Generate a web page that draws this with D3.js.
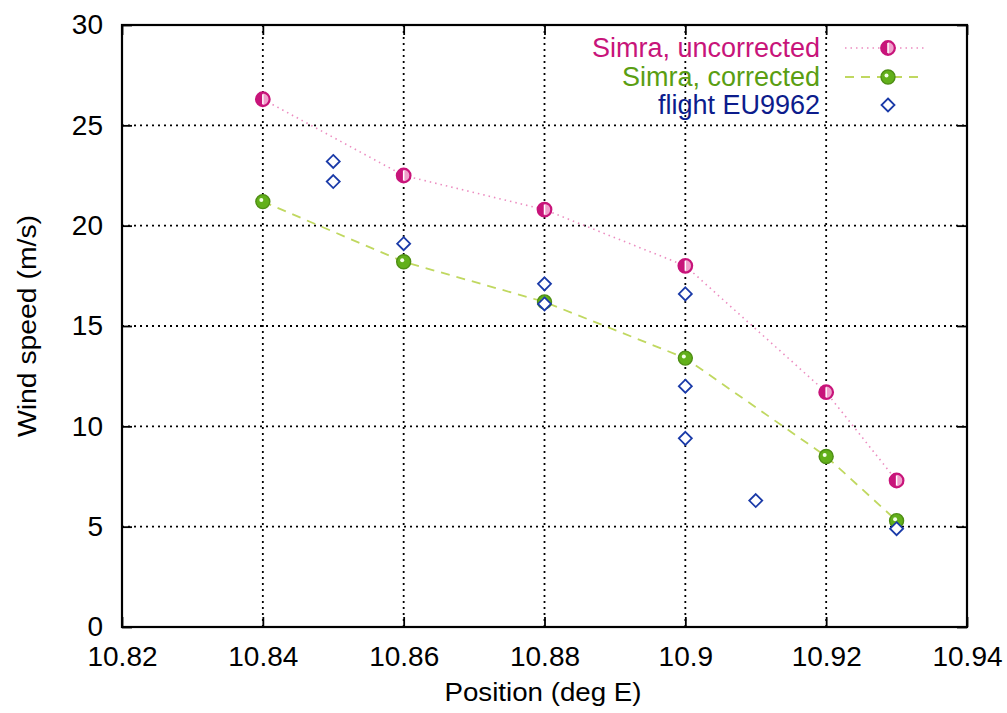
<!DOCTYPE html>
<html>
<head>
<meta charset="utf-8">
<script src="https://cdn.jsdelivr.net/npm/d3@7"></script>
<style>
  html, body { margin:0; padding:0; background:#fff; }
  svg { display:block; font-family: "Liberation Sans", Arial, sans-serif; }
</style>
</head>
<body>
<svg id="chart" width="1007" height="713"></svg>
<script>
// ---- data ----
const uncorrX = [10.84, 10.86, 10.88, 10.90, 10.92, 10.93];
const uncorrY = [26.3, 22.5, 20.8, 18.0, 11.7, 7.3];
const corrX   = [10.84, 10.86, 10.88, 10.90, 10.92, 10.93];
const corrY   = [21.2, 18.2, 16.2, 13.4, 8.5, 5.3];
const flightX = [10.85, 10.85, 10.86, 10.88, 10.88, 10.90, 10.90, 10.90, 10.91, 10.93];
const flightY = [23.2, 22.2, 19.1, 17.1, 16.1, 16.6, 12.0, 9.4, 6.3, 4.9];
const xTicks  = [10.82, 10.84, 10.86, 10.88, 10.9, 10.92, 10.94];
const yTicks  = [0, 5, 10, 15, 20, 25, 30];

const MAG = "#c8147a", MAG_LINE = "#ec8cc0";
const GRN = "#62b01a", GRN_LINE = "#c0d860";
const BLU = "#1a3aa8";

const P = { l:122, r:967, t:25, b:627 };
const svg = d3.select("#chart");

const x = d3.scaleLinear().domain([10.82, 10.94]).range([P.l, P.r]);
const y = d3.scaleLinear().domain([0, 30]).range([P.b, P.t]);

/* grid */
const grid = svg.append("g").attr("stroke","#000").attr("stroke-width",1.8).attr("stroke-dasharray","2,4");
xTicks.slice(1,-1).forEach(v => grid.append("line").attr("x1",x(v)).attr("x2",x(v)).attr("y1",P.t).attr("y2",P.b));
yTicks.slice(1,-1).forEach(v => grid.append("line").attr("x1",P.l).attr("x2",P.r).attr("y1",y(v)).attr("y2",y(v)));

/* axes: ticks inside, mirrored */
const fmtX = d => String(+d.toFixed(2));
svg.append("g").attr("transform",`translate(0,${P.b})`)
  .call(d3.axisBottom(x).tickValues(xTicks).tickSize(-10).tickPadding(19).tickFormat(fmtX));
svg.append("g").attr("transform",`translate(0,${P.t})`)
  .call(d3.axisTop(x).tickValues(xTicks).tickSize(-10).tickFormat(""));
svg.append("g").attr("transform",`translate(${P.l},0)`)
  .call(d3.axisLeft(y).tickValues(yTicks).tickSize(-10).tickPadding(19));
svg.append("g").attr("transform",`translate(${P.r},0)`)
  .call(d3.axisRight(y).tickValues(yTicks).tickSize(-10).tickFormat(""));
svg.selectAll(".domain").remove();
svg.selectAll(".tick line").attr("stroke","#000").attr("stroke-width",1.8);
svg.selectAll(".tick text").attr("font-size",28).attr("fill","#000")
  .attr("font-family","'Liberation Sans', Arial, sans-serif");

svg.append("rect").attr("x",P.l).attr("y",P.t).attr("width",P.r-P.l).attr("height",P.b-P.t)
  .attr("fill","none").attr("stroke","#000").attr("stroke-width",2.2);

/* axis titles */
svg.append("text").attr("x",543).attr("y",701).attr("text-anchor","middle")
  .attr("font-size",25).attr("textLength",197).attr("lengthAdjust","spacingAndGlyphs").text("Position (deg E)");
svg.append("text").attr("transform",`translate(36,326) rotate(-90)`).attr("text-anchor","middle")
  .attr("font-size",25).attr("textLength",222).attr("lengthAdjust","spacingAndGlyphs").text("Wind speed (m/s)");

/* markers */
function magCircle(g, cx, cy){
  g.append("circle").attr("cx",cx).attr("cy",cy).attr("r",6.8).attr("fill","#f0a0cc").attr("stroke",MAG).attr("stroke-width",2.2);
  g.append("path").attr("d",`M${cx},${cy-6.8} A6.8,6.8 0 0 0 ${cx},${cy+6.8} Z`).attr("fill",MAG);
  g.append("line").attr("x1",cx).attr("x2",cx).attr("y1",cy-5).attr("y2",cy+5).attr("stroke","#fff").attr("stroke-width",1.5);
}
function grnCircle(g, cx, cy){
  g.append("circle").attr("cx",cx).attr("cy",cy).attr("r",7).attr("fill",GRN).attr("stroke","#4e8e14").attr("stroke-width",1.4);
  g.append("circle").attr("cx",cx-1.5).attr("cy",cy-1.5).attr("r",2).attr("fill","#f4ffe8");
}
function diamond(g, cx, cy){
  g.append("path").attr("d",`M${cx},${cy-6.5} L${cx+6.5},${cy} L${cx},${cy+6.5} L${cx-6.5},${cy} Z`)
    .attr("fill","#fff").attr("stroke",BLU).attr("stroke-width",1.8);
}

/* lines */
const line = d3.line().x(d=>x(d[0])).y(d=>y(d[1]));
svg.append("path").attr("d", line(d3.zip(uncorrX, uncorrY))).attr("fill","none")
  .attr("stroke",MAG_LINE).attr("stroke-width",1.6).attr("stroke-dasharray","1.5,4");
svg.append("path").attr("d", line(d3.zip(corrX, corrY))).attr("fill","none")
  .attr("stroke",GRN_LINE).attr("stroke-width",1.8).attr("stroke-dasharray","9,7");

const marks = svg.append("g");
uncorrX.forEach((v,i)=> magCircle(marks, x(v), y(uncorrY[i])));
corrX.forEach((v,i)=> grnCircle(marks, x(v), y(corrY[i])));
flightX.forEach((v,i)=> diamond(marks, x(v), y(flightY[i])));

/* legend */
const legend = [
  { label:"Simra, uncorrected", color:MAG, y:48, kind:"mag" },
  { label:"Simra, corrected",   color:"#5a9e12", y:77, kind:"grn" },
  { label:"flight EU9962",      color:"#0c1c8c", y:105, kind:"blu" }
];
const lg = svg.append("g");
legend.forEach(d=>{
  lg.append("text").attr("x",820).attr("y",d.y+9).attr("text-anchor","end")
    .attr("font-size",27).attr("fill",d.color).text(d.label);
  if(d.kind==="mag"){
    lg.append("line").attr("x1",845).attr("x2",925).attr("y1",d.y).attr("y2",d.y)
      .attr("stroke",MAG_LINE).attr("stroke-width",1.6).attr("stroke-dasharray","1.5,4");
    magCircle(lg, 888, d.y);
  } else if(d.kind==="grn"){
    lg.append("line").attr("x1",845).attr("x2",925).attr("y1",d.y).attr("y2",d.y)
      .attr("stroke",GRN_LINE).attr("stroke-width",1.8).attr("stroke-dasharray","9,7");
    grnCircle(lg, 888, d.y);
  } else {
    diamond(lg, 888, d.y);
  }
});
</script>
</body>
</html>
